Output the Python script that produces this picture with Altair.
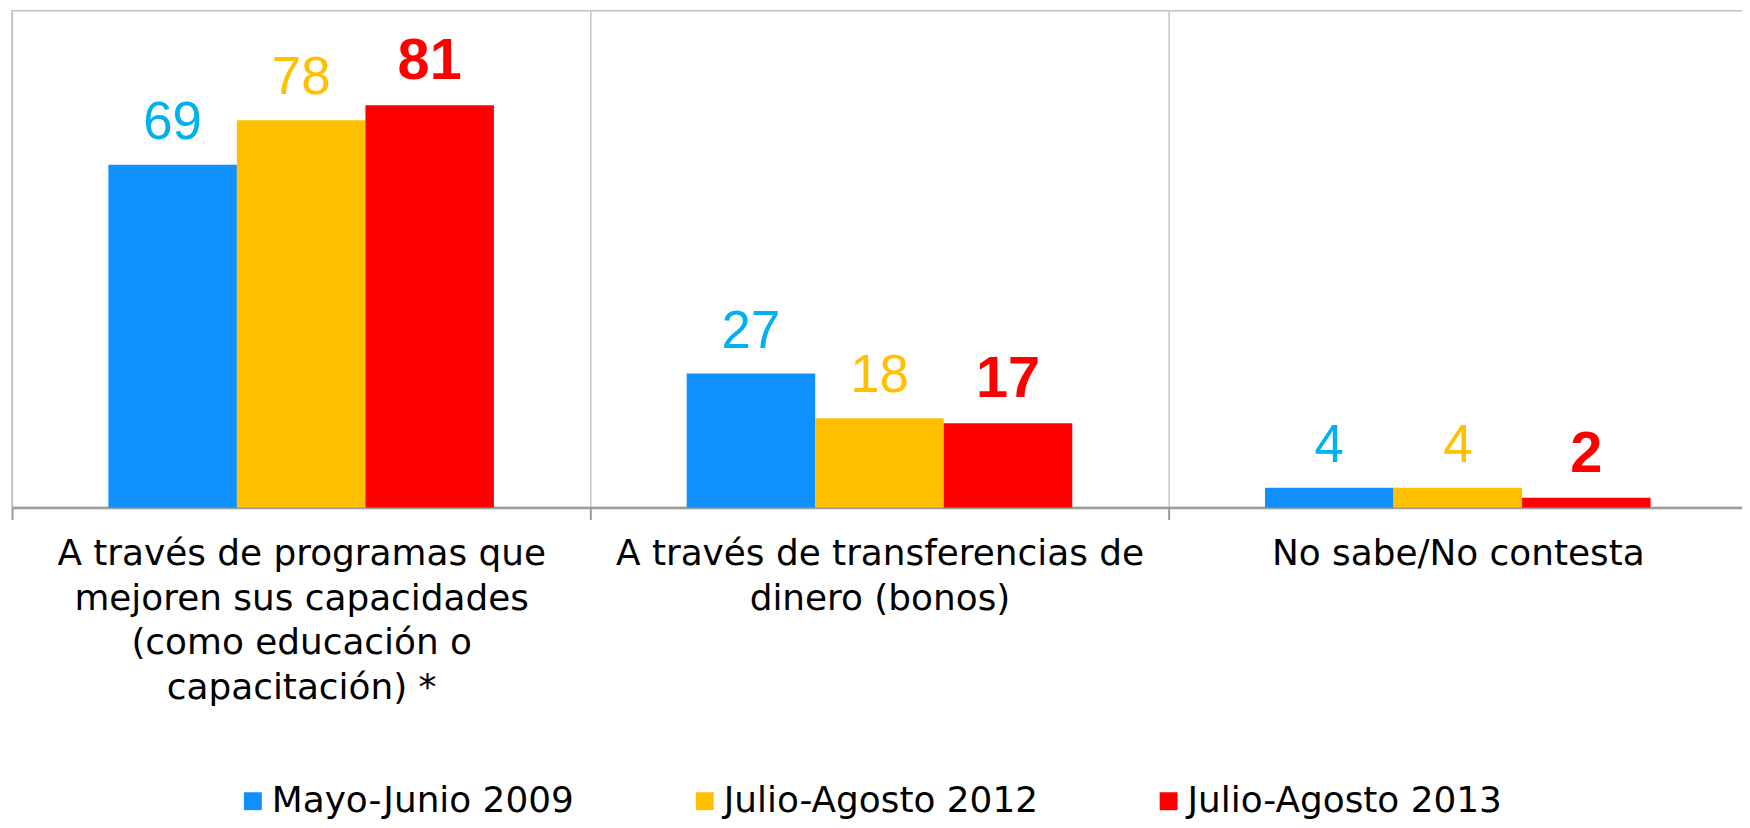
import altair as alt
import pandas as pd

categories = [
    "A través de programas que|mejoren sus capacidades|(como educación o|capacitación) *",
    "A través de transferencias de|dinero (bonos)",
    "No sabe/No contesta",
]
series = ["Mayo-Junio 2009", "Julio-Agosto 2012", "Julio-Agosto 2013"]
values_2009 = [69, 27, 4]
values_2012 = [78, 18, 4]
values_2013 = [81, 17, 2]
bar_colors = ["#1090FF", "#FFC000", "#FF0000"]
label_colors = ["#00B0F0", "#FFC000", "#FF0000"]

rows = []
for s, vals in zip(series, [values_2009, values_2012, values_2013]):
    for c, v in zip(categories, vals):
        rows.append({"category": c, "series": s, "value": v})
df = pd.DataFrame(rows)

x_enc = alt.X(
    "category:N",
    sort=categories,
    scale=alt.Scale(paddingInner=0, paddingOuter=0),
    axis=alt.Axis(
        title=None,
        labelAngle=0,
        labelExpr="split(datum.label, '|')",
        labelFont="DejaVu Sans",
        labelFontSize=36,
        labelColor="black",
        labelLineHeight=45,
        labelBaseline="top",
        labelPadding=17,
        labelLimit=700,
        tickBand="extent",
        tickSize=12,
        tickColor="#989d98",
        tickWidth=2,
        domainColor="#989d98",
        domainWidth=2.5,
        grid=True,
        gridColor="#c4c4c4",
        gridWidth=1.5,
    ),
)
xoff_enc = alt.XOffset(
    "series:N", sort=series,
    scale=alt.Scale(domain=series, paddingInner=0, paddingOuter=0.75),
)
y_enc = alt.Y("value:Q", scale=alt.Scale(domain=[0, 100], nice=False), axis=None)

bars = alt.Chart(df).mark_bar().encode(
    x=x_enc,
    xOffset=xoff_enc,
    y=y_enc,
    color=alt.Color(
        "series:N",
        sort=series,
        scale=alt.Scale(domain=series, range=bar_colors),
        legend=alt.Legend(
            title=None,
            orient="none",
            legendX=224,
            legendY=776,
            direction="horizontal",
            symbolType="square",
            symbolSize=324,
            symbolStrokeWidth=0,
            labelFont="DejaVu Sans",
            labelFontSize=36,
            labelColor="black",
            labelOffset=1,
            columnPadding=113,
            padding=0,
            labelLimit=600,
        ),
    ),
)

layers = [bars]
for s, col in zip(series, label_colors):
    bold = s == series[2]
    t = alt.Chart(df).transform_filter(alt.datum.series == s).mark_text(
        font="Liberation Sans",
        fontSize=58 if bold else 53,
        fontWeight="bold" if bold else "normal",
        color=col,
        baseline="alphabetic",
        align="center",
        dy=-26,
    ).encode(x=x_enc, xOffset=xoff_enc, y=y_enc, text=alt.Text("value:Q"))
    layers.append(t)

chart = alt.layer(*layers).properties(
    width=1743,
    height=499,
    padding={"left": 4, "top": 1, "right": -5, "bottom": 312},
    autosize=alt.AutoSizeParams(type="none"),
).configure_view(stroke="#c0c0c0", strokeWidth=1.5)

chart.save("out.html", embed_options={"renderer": "svg", "actions": False})
